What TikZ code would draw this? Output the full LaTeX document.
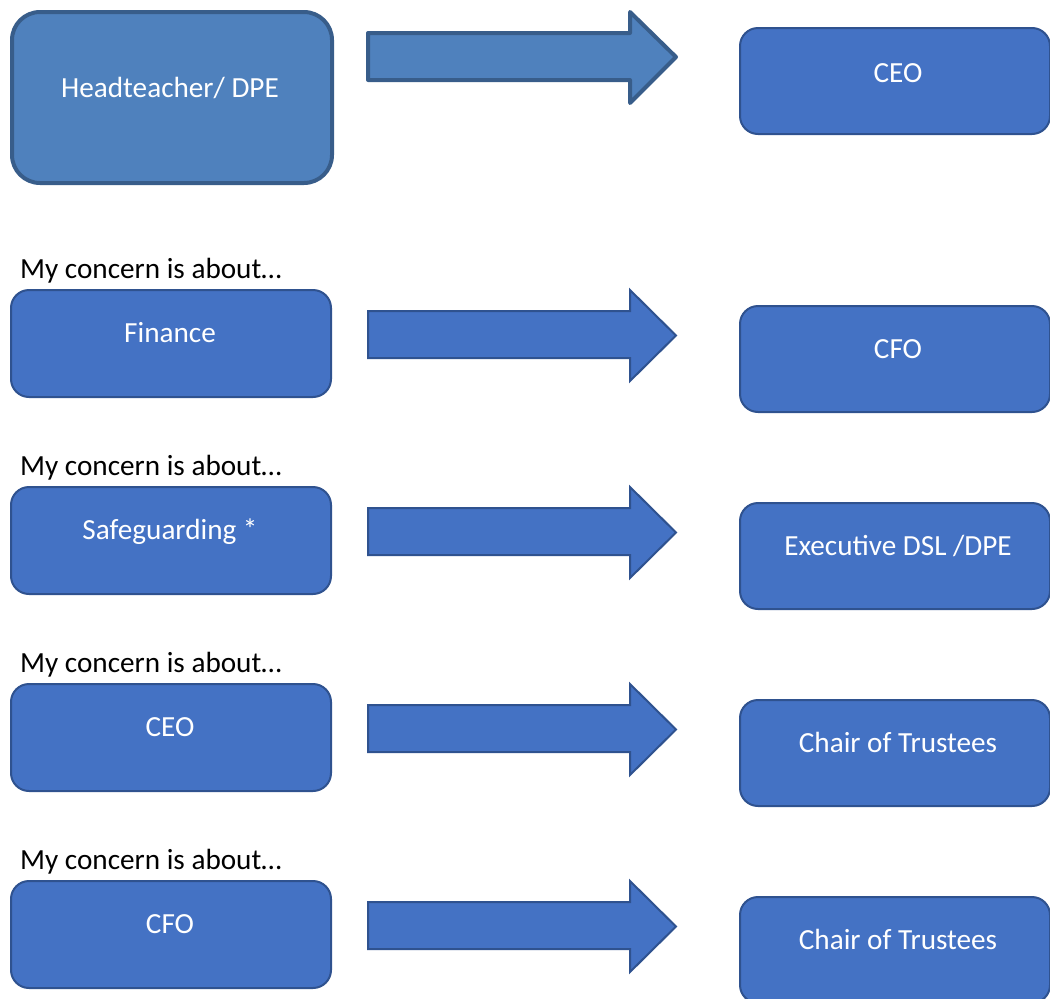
\documentclass[tikz,border=0pt]{standalone}
\usepackage{fontspec}
\setmainfont{Carlito}
\definecolor{fillA}{HTML}{4F81BD}
\definecolor{lineA}{HTML}{385D8A}
\definecolor{fillB}{HTML}{4472C4}
\definecolor{lineB}{HTML}{2F528F}
\tikzset{
  boxA/.style={draw=lineA, fill=fillA, line width=4pt, rounded corners=28pt, anchor=north west, inner sep=0pt},
  boxB/.style={draw=lineB, fill=fillB, line width=2pt, rounded corners=18pt, anchor=north west, inner sep=0pt},
  arrA/.style={draw=lineA, fill=fillA, line width=4pt, line join=round},
  arrB/.style={draw=lineB, fill=fillB, line width=2pt, line join=miter},
  wtxt/.style={text=white, font=\fontsize{29.2}{35}\selectfont, inner sep=0pt, anchor=base},
  captxt/.style={text=black, font=\fontsize{29.2}{35}\selectfont, inner sep=0pt, anchor=base west},
}
\begin{document}
\begin{tikzpicture}[x=1pt,y=-1pt]
\useasboundingbox (0,0) rectangle (1050,999);
% top row
\node[boxA, minimum width=320pt, minimum height=171pt] (head) at (10,10) {};
\node[wtxt] (headt) at (170,97) {Headteacher/ DPE};
\draw[arrA] (368,33) -- (630,33) -- (630,12) -- (676,57) -- (630,103) -- (630,80) -- (368,80) -- cycle;
\node[boxB, minimum width=310pt, minimum height=106pt] (ceo) at (739,27) {};
\node[wtxt] (ceot) at (898,82) {CEO};
% rows
\foreach \i/\l/\r in {0/{Finance}/{CFO}, 1/{Safeguarding *}/{Executive DSL /DPE}, 2/{CEO}/{Chair of Trustees}, 3/{CFO}/{Chair of Trustees}}{
  \pgfmathsetmacro{\dy}{197*\i}
  \begin{scope}[yshift=-\dy pt]
    \node[captxt] (cap\i) at (20,278) {My concern is about…};
    \node[boxB, minimum width=320pt, minimum height=107pt] (lb\i) at (10,289) {};
    \node[wtxt] (lt\i) at (170,342) {\l};
    \draw[arrB] (368,311) -- (630,311) -- (630,290) -- (676,335.5) -- (630,381) -- (630,358) -- (368,358) -- cycle;
    \node[boxB, minimum width=310pt, minimum height=106pt] (rb\i) at (739,305) {};
    \node[wtxt] (rt\i) at (898,358) {\r};
  \end{scope}
}
\end{tikzpicture}
\end{document}
